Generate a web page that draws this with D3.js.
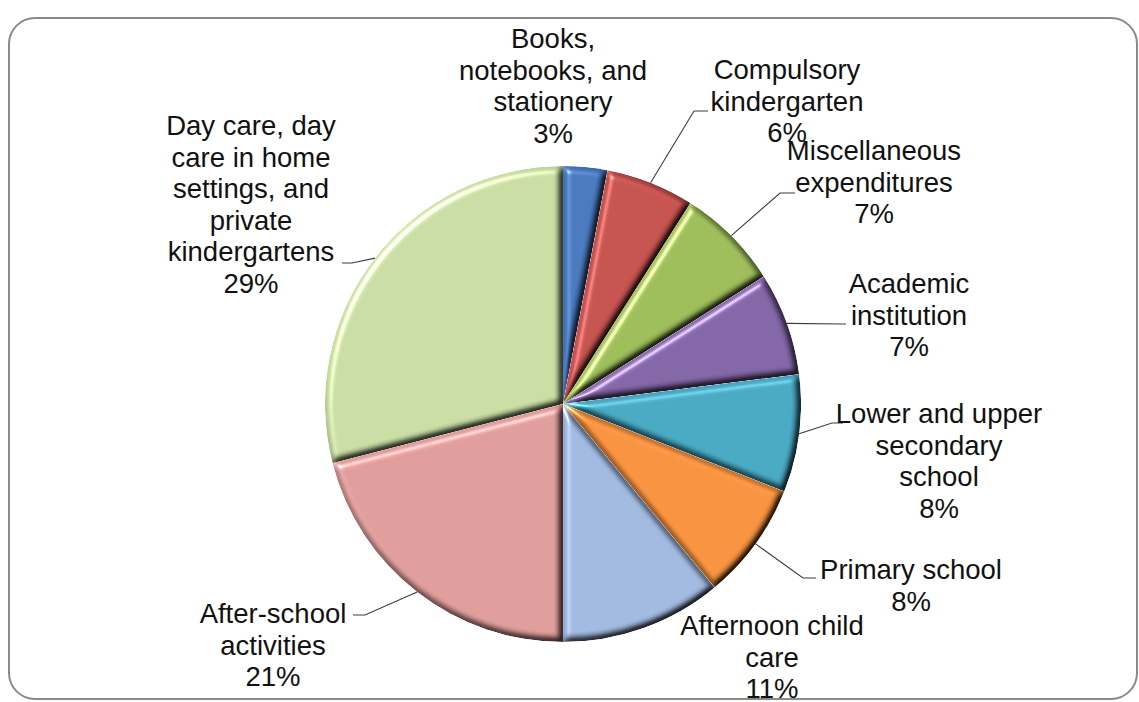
<!DOCTYPE html>
<html>
<head>
<meta charset="utf-8">
<script src="https://cdn.jsdelivr.net/npm/d3@7"></script>
<style>
  html, body { margin: 0; padding: 0; background: #ffffff; }
  svg { display: block; }
  .label { font-family: "Liberation Sans", Arial, Helvetica, sans-serif; font-size: 27.5px; fill: #111; }
</style>
</head>
<body>
<svg id="chart" width="1139" height="702"></svg>
<script>
// Spending categories, clockwise from 12 o'clock
const categories = [
  "Books, notebooks, and stationery",
  "Compulsory kindergarten",
  "Miscellaneous expenditures",
  "Academic institution",
  "Lower and upper secondary school",
  "Primary school",
  "Afternoon child care",
  "After-school activities",
  "Day care, day care in home settings, and private kindergartens"
];
// Share of total spending, percent
const shares = [3, 6, 7, 7, 8, 8, 11, 21, 29];
// Wrapped label text for each category
const labelLines = [
  ["Books,", "notebooks, and", "stationery"],
  ["Compulsory", "kindergarten"],
  ["Miscellaneous", "expenditures"],
  ["Academic", "institution"],
  ["Lower and upper", "secondary", "school"],
  ["Primary school"],
  ["Afternoon child", "care"],
  ["After-school", "activities"],
  ["Day care, day", "care in home", "settings, and", "private", "kindergartens"]
];
const sliceColors = [
  "#4676ba", "#c24f4c", "#9aba57", "#7f62a3", "#45a6c0",
  "#f38f3c", "#9eb5dc", "#db9a98", "#c5d9a0"
];

// Label placement: text centre x, first baseline y, leader elbow and end
const labelLayout = [
  { x: 553, y: 48,  leader: null },
  { x: 787, y: 79,  leader: [[694, 111], [708, 111]] },
  { x: 874, y: 160, leader: [[780, 193], [795, 193]] },
  { x: 909, y: 293, leader: [[842, 324], [846, 324]] },
  { x: 939, y: 423, leader: [[832, 423], [843, 423]] },
  { x: 911, y: 579, leader: [[803, 578], [816, 578]] },
  { x: 772, y: 635, leader: null },
  { x: 273, y: 623, leader: [[365, 615], [353, 615]] },
  { x: 251, y: 135, leader: [[352, 263], [342, 263]] }
];

const W = 1139, H = 702;
const cx = 563, cy = 404, R = 238;
const lineGap = 31.6;

const svg = d3.select("#chart");

// Bevel effect: blurred alpha used as a height map, lit from the upper left
const defs = svg.append("defs");
const f = defs.append("filter")
  .attr("id", "bevel")
  .attr("x", "-5%").attr("y", "-5%")
  .attr("width", "110%").attr("height", "110%")
  .attr("color-interpolation-filters", "sRGB");
f.append("feGaussianBlur").attr("in", "SourceAlpha").attr("stdDeviation", 3.5).attr("result", "blur");
f.append("feDiffuseLighting")
  .attr("in", "blur").attr("surfaceScale", 6).attr("diffuseConstant", 1.15)
  .attr("lighting-color", "#ffffff").attr("result", "diff")
  .append("feDistantLight").attr("azimuth", 225).attr("elevation", 60);
f.append("feComposite").attr("in", "diff").attr("in2", "SourceGraphic")
  .attr("operator", "arithmetic").attr("k1", 1).attr("k2", 0).attr("k3", 0).attr("k4", 0)
  .attr("result", "shaded");
f.append("feSpecularLighting")
  .attr("in", "blur").attr("surfaceScale", 6).attr("specularConstant", 0.9)
  .attr("specularExponent", 25).attr("lighting-color", "#ffffff").attr("result", "spec")
  .append("feDistantLight").attr("azimuth", 225).attr("elevation", 35);
f.append("feComposite").attr("in", "spec").attr("in2", "SourceAlpha")
  .attr("operator", "in").attr("result", "specIn");
f.append("feComposite").attr("in", "shaded").attr("in2", "specIn")
  .attr("operator", "arithmetic").attr("k1", 0).attr("k2", 1).attr("k3", 0.55).attr("k4", 0)
  .attr("result", "lit");
f.append("feComposite").attr("in", "lit").attr("in2", "SourceAlpha").attr("operator", "in");

// Rounded frame
svg.append("rect")
  .attr("x", 9).attr("y", 18)
  .attr("width", 1128).attr("height", 681)
  .attr("rx", 26).attr("ry", 26)
  .attr("fill", "#ffffff")
  .attr("stroke", "#8a8a8a")
  .attr("stroke-width", 2);

const data = categories.map((c, i) => ({ name: c, value: shares[i], idx: i }));

const pie = d3.pie().value(d => d.value).sort(null).startAngle(0).endAngle(2 * Math.PI);
const arcs = pie(data);
const arc = d3.arc().innerRadius(0).outerRadius(R);
const rimArc = d3.arc().innerRadius(R).outerRadius(R);

const g = svg.append("g").attr("transform", `translate(${cx},${cy})`);

g.selectAll("path.slice")
  .data(arcs)
  .join("path")
  .attr("class", "slice")
  .attr("d", arc)
  .attr("fill", d => sliceColors[d.data.idx])
  .attr("filter", "url(#bevel)");

// Leader lines from the middle of each slice's rim to its label
const leaders = svg.append("g")
  .attr("fill", "none")
  .attr("stroke", "#3c3c3c")
  .attr("stroke-width", 1.1);
arcs.forEach(a => {
  const lay = labelLayout[a.data.idx];
  if (!lay.leader) return;
  const c = rimArc.centroid(a);
  const pts = [[cx + c[0], cy + c[1]], ...lay.leader];
  leaders.append("path").attr("d", d3.line()(pts));
});

// Category labels with their percentage on the last line
const labels = svg.append("g");
arcs.forEach(a => {
  const i = a.data.idx;
  const lay = labelLayout[i];
  const lines = labelLines[i].concat([`${a.data.value}%`]);
  const t = labels.append("text")
    .attr("class", "label")
    .attr("text-anchor", "middle");
  lines.forEach((s, k) => {
    t.append("tspan").attr("x", lay.x).attr("y", lay.y + k * lineGap).text(s);
  });
});
</script>
</body>
</html>
